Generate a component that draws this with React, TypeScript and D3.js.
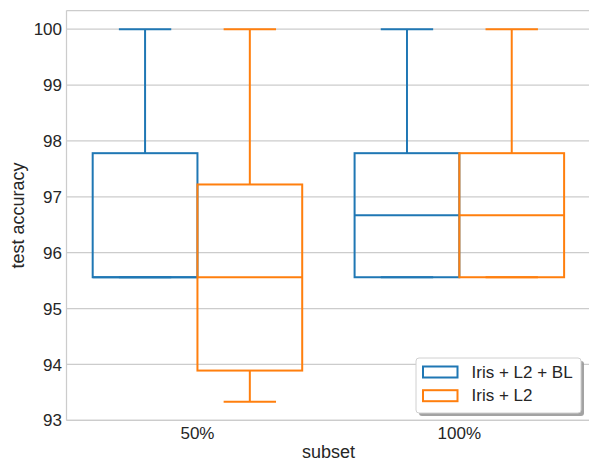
import React from "react";
import * as d3 from "d3";

// Subsets along the x axis and the two compared methods (hue)
const subsets = ["50%", "100%"];
const methods = ["Iris + L2 + BL", "Iris + L2"];
const colors = ["#1f77b4", "#ff7f0e"];

// Box statistics per subset: [lower whisker, Q1, median, Q3, upper whisker]
const blStats = [
  [95.56, 95.56, 95.56, 97.78, 100],
  [95.56, 95.56, 96.67, 97.78, 100],
];
const l2Stats = [
  [93.33, 93.89, 95.56, 97.22, 100],
  [95.56, 95.56, 96.67, 97.78, 100],
];
const yTicks = [93, 94, 95, 96, 97, 98, 99, 100];

const W = 589;
const H = 461;
const FONT = "'Liberation Sans', Arial, sans-serif";

export default function App() {
  const left = 66.5;
  const right = 590.3;
  const top = 10.5;
  const bottom = 420.3;

  const x = d3.scaleLinear().domain([-0.5, 1.5]).range([left, right]);
  const y = d3.scaleLinear().domain([93, 100.3333]).range([bottom, top]);

  const series = [blStats, l2Stats];
  const hueOffset = [-0.2, 0.2];
  const boxW = 0.4;

  const gridColor = "#cccccc";
  const textColor = "#262626";
  const tickSize = 17;
  const labelSize = 18;

  return (
    <svg
      width={W}
      height={H}
      style={{ position: "absolute", left: 0, top: 0, background: "#fff" }}
    >
      <rect x={0} y={0} width={W} height={H} fill="#fff" />
      {/* horizontal grid */}
      {yTicks.map((t) => (
        <line
          key={"g" + t}
          x1={left}
          x2={right}
          y1={y(t)}
          y2={y(t)}
          stroke={gridColor}
          strokeWidth={1.25}
        />
      ))}
      {/* spines */}
      <line x1={left} x2={left} y1={top} y2={bottom} stroke={gridColor} strokeWidth={1.25} />
      <line x1={left} x2={right} y1={top} y2={top} stroke={gridColor} strokeWidth={1.25} />
      <line x1={left} x2={right} y1={bottom} y2={bottom} stroke={gridColor} strokeWidth={1.25} />

      {/* boxes */}
      {series.map((stats, si) =>
        stats.map((s, ci) => {
          const cx = x(ci + hueOffset[si]);
          const x0 = x(ci + hueOffset[si] - boxW / 2);
          const x1 = x(ci + hueOffset[si] + boxW / 2);
          const c0 = x(ci + hueOffset[si] - boxW / 4);
          const c1 = x(ci + hueOffset[si] + boxW / 4);
          const [lo, q1, med, q3, hi] = s;
          const col = colors[si];
          return (
            <g key={si + "-" + ci} stroke={col} strokeWidth={2} fill="none">
              <line x1={cx} x2={cx} y1={y(q1)} y2={y(lo)} />
              <line x1={cx} x2={cx} y1={y(q3)} y2={y(hi)} />
              <line x1={c0} x2={c1} y1={y(lo)} y2={y(lo)} />
              <line x1={c0} x2={c1} y1={y(hi)} y2={y(hi)} />
              <rect x={x0} y={y(q3)} width={x1 - x0} height={y(q1) - y(q3)} />
              <line x1={x0} x2={x1} y1={y(med)} y2={y(med)} />
            </g>
          );
        })
      )}

      {/* y tick labels */}
      {yTicks.map((t) => (
        <text
          key={"t" + t}
          x={62}
          y={y(t)}
          dy="0.36em"
          textAnchor="end"
          fontFamily={FONT}
          fontSize={tickSize}
          fill={textColor}
        >
          {t}
        </text>
      ))}
      {/* x tick labels */}
      {subsets.map((s, i) => (
        <text
          key={s}
          x={x(i)}
          y={438.8}
          textAnchor="middle"
          fontFamily={FONT}
          fontSize={tickSize}
          fill={textColor}
        >
          {s}
        </text>
      ))}

      {/* axis labels */}
      <text
        x={(left + right) / 2}
        y={458}
        textAnchor="middle"
        fontFamily={FONT}
        fontSize={labelSize}
        fill={textColor}
      >
        subset
      </text>
      <text
        transform={`translate(24,${(top + bottom) / 2}) rotate(-90)`}
        textAnchor="middle"
        fontFamily={FONT}
        fontSize={labelSize}
        fill={textColor}
      >
        test accuracy
      </text>

      {/* legend */}
      <g>
        <rect x={419} y={361} width={165} height={55} rx={3} fill="#999" opacity={0.9} />
        <rect x={416} y={358} width={165} height={55} rx={3} fill="#fff" stroke="#d0d0d0" strokeWidth={1} />
        {methods.map((m, i) => (
          <g key={m}>
            <rect
              x={423}
              y={366.5 + i * 23.7}
              width={34.5}
              height={11}
              fill="#fff"
              stroke={colors[i]}
              strokeWidth={2}
            />
            <text
              x={471.5}
              y={377.7 + i * 23.7}
              fontFamily={FONT}
              fontSize={tickSize}
              fill={textColor}
            >
              {m}
            </text>
          </g>
        ))}
      </g>
    </svg>
  );
}
